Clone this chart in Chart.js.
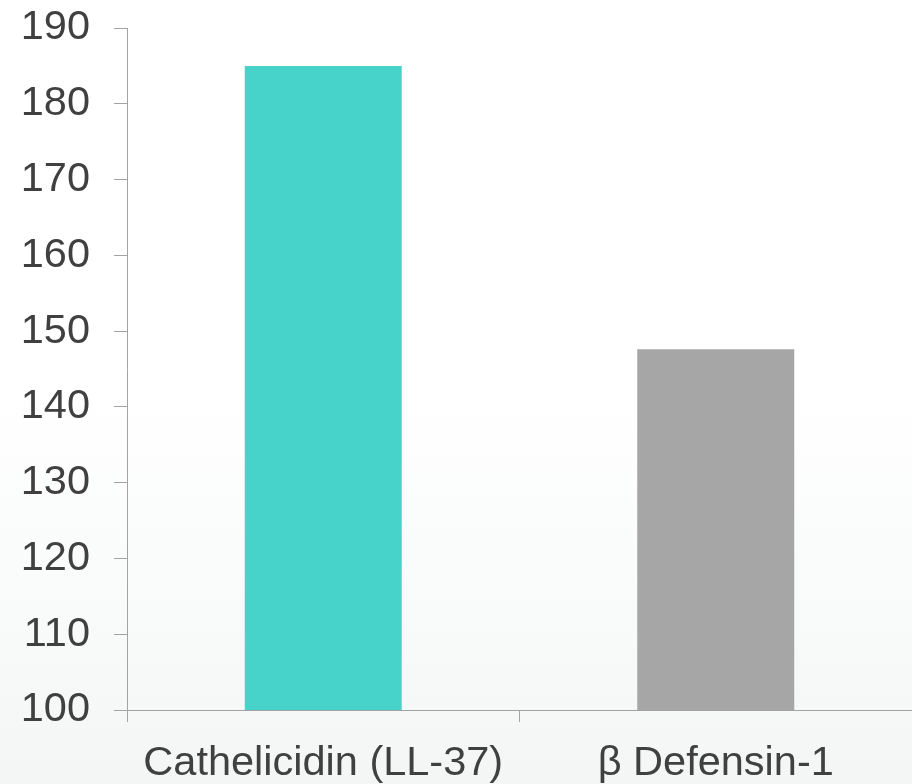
<!DOCTYPE html>
<html>
<head>
<meta charset="utf-8">
<script src="https://cdn.jsdelivr.net/npm/chart.js@4"></script>
<style>
    html, body {
        margin: 0;
        padding: 0;
        width: 912px;
        height: 784px;
        overflow: hidden;
        background: linear-gradient(to bottom, #ffffff 0%, #ffffff 50%, #f4f6f6 100%);
    }
    .chart-box {
        position: relative;
        width: 912px;
        height: 784px;
    }
</style>
</head>
<body>
<div class="chart-box">
    <canvas id="peptideChart"></canvas>
</div>
<script>
// Chart data
const categories = ['Cathelicidin (LL-37)', 'β Defensin-1'];
const values = [185, 147.6];
const barColors = ['#47d3c9', '#a6a6a6'];
const yMin = 100;
const yMax = 190;
const yStep = 10;

document.addEventListener('DOMContentLoaded', function() {
    const ctx = document.getElementById('peptideChart').getContext('2d');
    const axisColor = '#a3a3a3';
    const textColor = '#404040';
    const labelFont = { family: 'Liberation Sans, Arial, sans-serif', size: 41.5 };

    const peptideChart = new Chart(ctx, {
        type: 'bar',
        data: {
            labels: categories,
            datasets: [{
                data: values,
                backgroundColor: barColors,
                borderWidth: 0,
                barPercentage: 0.4,
                categoryPercentage: 1.0
            }]
        },
        options: {
            responsive: true,
            maintainAspectRatio: false,
            animation: false,
            layout: {
                padding: 0
            },
            plugins: {
                legend: { display: false },
                tooltip: { enabled: false }
            },
            scales: {
                y: {
                    min: yMin,
                    max: yMax,
                    afterFit: function(scale) {
                        // pin the axis position to the reference layout
                        scale.width = 127;
                        scale.paddingTop = 28;
                        scale.paddingBottom = 0;
                    },
                    ticks: {
                        stepSize: yStep,
                        color: textColor,
                        padding: 24,
                        font: labelFont
                    },
                    grid: {
                        drawOnChartArea: false,
                        drawTicks: true,
                        tickLength: 13,
                        color: axisColor
                    },
                    border: { color: axisColor, width: 1 }
                },
                x: {
                    afterFit: function(scale) {
                        scale.height = 74;
                        scale.paddingLeft = 0;
                        scale.paddingRight = 0;
                    },
                    ticks: {
                        color: textColor,
                        padding: 17,
                        maxRotation: 0,
                        font: labelFont
                    },
                    grid: {
                        drawOnChartArea: false,
                        drawTicks: true,
                        tickLength: 12,
                        color: axisColor
                    },
                    border: { color: axisColor, width: 1 }
                }
            }
        }
    });
});
</script>
</body>
</html>
